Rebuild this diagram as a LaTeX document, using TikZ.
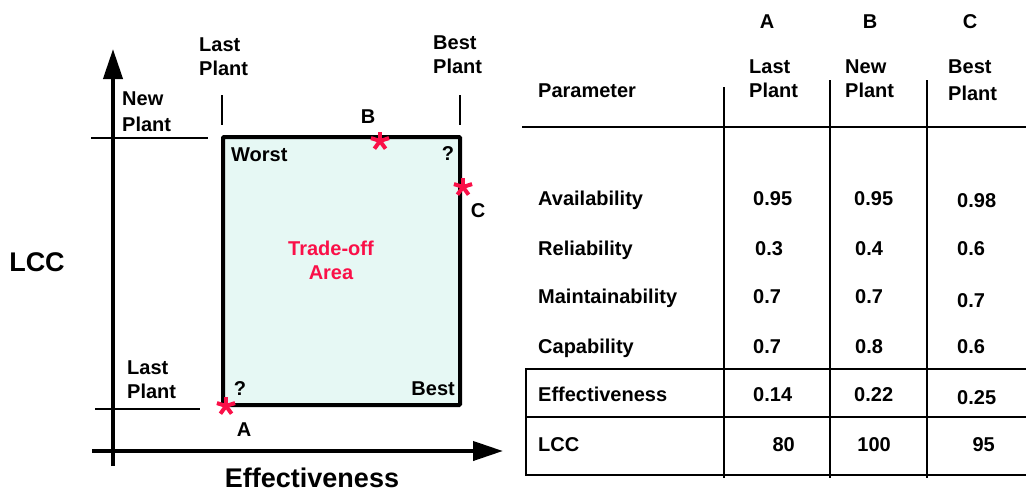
\documentclass[tikz,border=0pt]{standalone}
\usepackage{fontspec}
\setmainfont{Liberation Sans}
\usepackage{tikz}
\usetikzlibrary{arrows.meta}
\definecolor{areafill}{RGB}{230,248,244}
\definecolor{tradered}{RGB}{250,16,72}

\newcommand\plantstar[1]{\foreach \a in {90,18,162,234,306}
  \draw[tradered,line width=4pt] (#1) -- ++(\a:9.5pt);}

\begin{document}
\begin{tikzpicture}[x=1pt,y=-1pt,
  >={Triangle[length=30pt,width=19pt]},
  lbl/.style={font=\fontsize{20}{23.5}\selectfont\bfseries,align=left,inner sep=0pt},
  big/.style={font=\fontsize{27}{30}\selectfont\bfseries,inner sep=0pt},
  axis/.style={line width=4pt},
  tick/.style={line width=1.6pt},
  rule/.style={line width=2.5pt},
  col/.style={line width=2pt}]

\useasboundingbox (0,0) rectangle (1026,493);

% axes and plant levels
 \coordinate (ybot) at (113,466);  \coordinate (ytop) at (113,49);
 \coordinate (xleft) at (92,451);  \coordinate (xright) at (503,451);
 \draw[axis,->] (ybot) -- (ytop);
 \draw[axis,->] (xleft) -- (xright);
 \draw[tick] (91,138) -- (208,138);
 \draw[tick] (95,409) -- (200,409);
 \draw[tick] (222,95) -- (222,125);
 \draw[tick] (460,95) -- (460,125);

 \node[draw,line width=4pt,fill=areafill,rounded corners=1pt,
       minimum width=237pt,minimum height=268pt] (area) at (341.5,271) {};

 \node[lbl,anchor=north west] (lastT) at (199,38) {Last\\Plant};
 \node[lbl,anchor=north west] (bestT) at (433,36) {Best\\Plant};
 \node[lbl,anchor=north west] (newL)  at (122,92) {New\\[2pt]Plant};
 \node[lbl,anchor=north west] (lastL) at (127,361) {Last\\Plant};
 \node[lbl,anchor=base west] (worst) at (231,161) {Worst};
 \node[lbl,anchor=base] (qtop) at (448,160) {?};
 \node[lbl,anchor=base] (qbot) at (240,395) {?};
 \node[lbl,anchor=base east] (best) at (455,395) {Best};
 \node[lbl,align=center,anchor=north,text=tradered] (trade) at (331,241) {Trade-off\\Area};
 \node[big,anchor=base] (lcc) at (37,271) {LCC};
 \node[big,anchor=base] (eff) at (312,487) {Effectiveness};

% the three plants
 \coordinate (pA) at (226,406);
 \coordinate (pB) at (380,141);
 \coordinate (pC) at (463,187);
 \plantstar{pA} \plantstar{pB} \plantstar{pC}
 \node[lbl,anchor=base] (lA) at (244,436) {A};
 \node[lbl,anchor=base] (lB) at (368,123) {B};
 \node[lbl,anchor=base] (lC) at (478,217) {C};

% table
 \draw[rule] (522,127) -- (1026,127);
 \draw[col] (724,87) -- (724,478);
 \draw[col] (830,80) -- (830,478);
 \draw[col] (927,80) -- (927,478);
 \draw[rule] (1030,369) -- (526,369) -- (526,475) -- (1030,475);
 \draw[rule] (526,417) -- (1030,417);

 \node[lbl,anchor=base] (hA) at (767,28) {A};
 \node[lbl,anchor=base] (hB) at (870,28) {B};
 \node[lbl,anchor=base] (hC) at (970,28) {C};
 \node[lbl,anchor=north west] (hLast) at (749,60) {Last\\Plant};
 \node[lbl,anchor=north west] (hNew)  at (845,60) {New\\Plant};
 \node[lbl,anchor=north west] (hBest) at (948,60) {Best\\[3pt]Plant};
 \node[lbl,anchor=base west] (param) at (538,97) {Parameter};

 \node[lbl,anchor=base west] (avail) at (538,205) {Availability};
 \node[lbl,anchor=base west] (relia) at (538,255) {Reliability};
 \node[lbl,anchor=base west] (maint) at (538,303) {Maintainability};
 \node[lbl,anchor=base west] (capab) at (538,353) {Capability};
 \node[lbl,anchor=base west] (effec) at (538,401) {Effectiveness};
 \node[lbl,anchor=base west] (lccr)  at (538,451) {LCC};

 \node[lbl,anchor=base west] (a1) at (753,205) {0.95};
 \node[lbl,anchor=base west] (a2) at (755,255) {0.3};
 \node[lbl,anchor=base west] (a3) at (753,303) {0.7};
 \node[lbl,anchor=base west] (a4) at (753,353) {0.7};
 \node[lbl,anchor=base west] (a5) at (753,401) {0.14};
 \node[lbl,anchor=base east] (a6) at (795,451) {80};

 \node[lbl,anchor=base west] (b1) at (854,205) {0.95};
 \node[lbl,anchor=base west] (b2) at (855,255) {0.4};
 \node[lbl,anchor=base west] (b3) at (855,303) {0.7};
 \node[lbl,anchor=base west] (b4) at (855,353) {0.8};
 \node[lbl,anchor=base west] (b5) at (854,401) {0.22};
 \node[lbl,anchor=base east] (b6) at (891,451) {100};

 \node[lbl,anchor=base west] (c1) at (957,207) {0.98};
 \node[lbl,anchor=base west] (c2) at (957,255) {0.6};
 \node[lbl,anchor=base west] (c3) at (957,307) {0.7};
 \node[lbl,anchor=base west] (c4) at (957,353) {0.6};
 \node[lbl,anchor=base west] (c5) at (957,404) {0.25};
 \node[lbl,anchor=base east] (c6) at (995,451) {95};

\end{tikzpicture}
\end{document}
